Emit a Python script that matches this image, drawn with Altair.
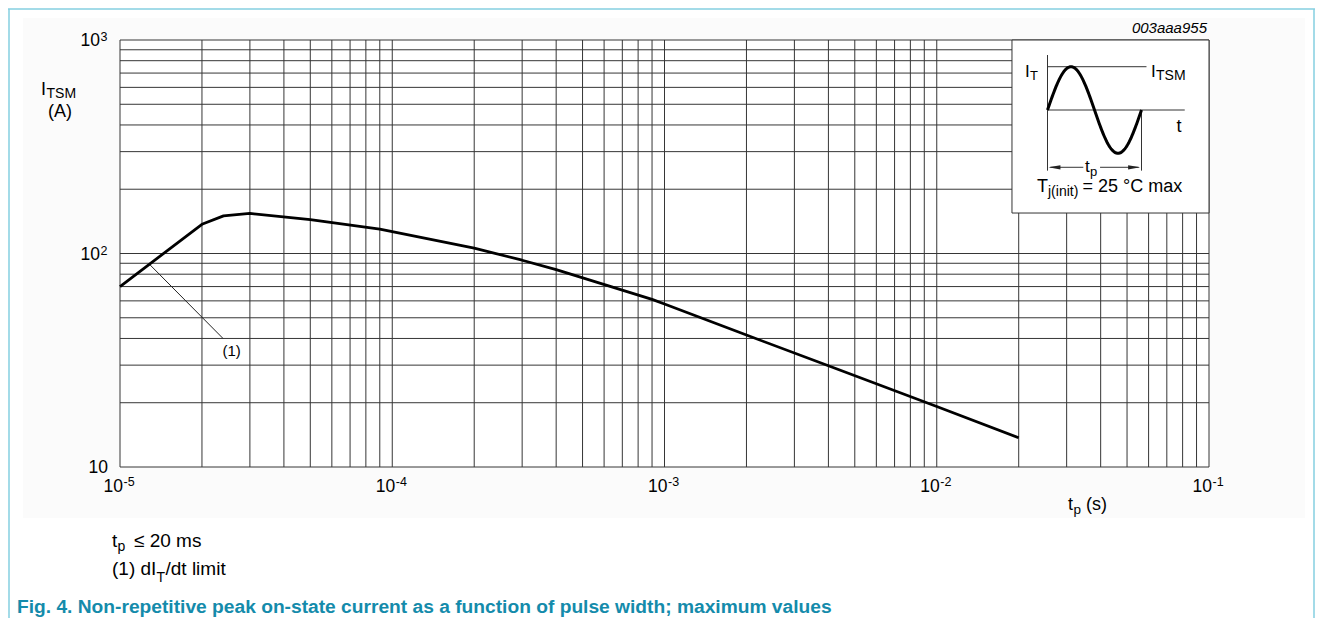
import altair as alt
import pandas as pd
import numpy as np

FONT = "Liberation Sans, Arial, Helvetica, sans-serif"
W, H = 1089, 427

# ---- curve data ----
tp_s = [1e-5, 2e-5, 2.4e-5, 3e-5, 5e-5, 9e-5, 2e-4, 3e-4, 4e-4, 9e-4, 1e-3, 2e-3, 4e-3, 1e-2, 2e-2]
itsm_a = [70, 137, 150, 154, 144, 130, 106, 93, 84, 61, 58, 41.5, 29.8, 19.2, 13.7]

# (1) dIT/dt limit leader line
limit_tp = [1.29e-5, 2.39e-5]
limit_i = [88.4, 40.0]
limit_label_tp = [2.57e-5]
limit_label_i = [35.1]

# grid
mantissas = [1, 2, 3, 4, 5, 6, 7, 8, 9]
x_decades = [1e-5, 1e-4, 1e-3, 1e-2]
y_decades = [10, 100]
grid_x = [m * d for d in x_decades for m in mantissas] + [1e-1]
grid_y = [m * d for d in y_decades for m in mantissas] + [1000]

# tick labels
x_tick_vals = [1e-5, 1e-4, 1e-3, 1e-2, 1e-1]
x_tick_exp = ["-5", "-4", "-3", "-2", "-1"]
y_tick_vals = [1000, 100]
y_tick_exp = ["3", "2"]
y_plain_vals = [10]

XS = alt.Scale(type="log", domain=[1e-5, 1e-1], nice=False)
YS = alt.Scale(type="log", domain=[10, 1000], nice=False)

GRID = "#363636"


def label(s, x, y, size=17, align="left", weight="normal", style="normal",
          color="#000000", baseline="alphabetic"):
    return alt.Chart(alt.Data(values=[{"s": s}])).mark_text(
        align=align, baseline=baseline, font=FONT, fontSize=size,
        fontWeight=weight, fontStyle=style, color=color
    ).encode(x=alt.value(x), y=alt.value(y), text="s:N")


# ---- backgrounds ----
panel = alt.Chart(alt.Data(values=[{}])).mark_rect(color="#fbfbfb").encode(
    x=alt.value(-97), x2=alt.value(1185), y=alt.value(-22), y2=alt.value(478))
plotbg = alt.Chart(alt.Data(values=[{}])).mark_rect(color="#ffffff").encode(
    x=alt.value(0), x2=alt.value(W), y=alt.value(0), y2=alt.value(H))
border_top = alt.Chart(alt.Data(values=[{}])).mark_rule(color="#84cfe0", strokeWidth=1.5).encode(
    x=alt.value(-112), x2=alt.value(1195), y=alt.value(-31))
border_left = alt.Chart(alt.Data(values=[{}])).mark_rule(color="#84cfe0", strokeWidth=1.5).encode(
    x=alt.value(-111), y=alt.value(-31), y2=alt.value(578))
border_right = alt.Chart(alt.Data(values=[{}])).mark_rule(color="#84cfe0", strokeWidth=1.5).encode(
    x=alt.value(1194), y=alt.value(-31), y2=alt.value(578))

# ---- grid ----
vgrid = alt.Chart(pd.DataFrame({"g": grid_x})).mark_rule(color=GRID, strokeWidth=1).encode(
    x=alt.X("g:Q", scale=XS, axis=None))
hgrid = alt.Chart(pd.DataFrame({"g": grid_y})).mark_rule(color=GRID, strokeWidth=1).encode(
    y=alt.Y("g:Q", scale=YS, axis=None))

# ---- curve ----
curve = alt.Chart(pd.DataFrame({"tp": tp_s, "i": itsm_a})).mark_line(
    color="#000000", strokeWidth=2.8, strokeJoin="round").encode(
    x=alt.X("tp:Q", scale=XS, axis=None), y=alt.Y("i:Q", scale=YS, axis=None))

leader = alt.Chart(pd.DataFrame({"tp": limit_tp, "i": limit_i})).mark_line(
    color="#222222", strokeWidth=1).encode(
    x=alt.X("tp:Q", scale=XS, axis=None), y=alt.Y("i:Q", scale=YS, axis=None))
leader_lbl = alt.Chart(pd.DataFrame({"tp": limit_label_tp, "i": limit_label_i, "s": ["(1)"]})).mark_text(
    font=FONT, fontSize=15, align="center", baseline="middle", color="#000000").encode(
    x=alt.X("tp:Q", scale=XS, axis=None), y=alt.Y("i:Q", scale=YS, axis=None), text="s:N")

# ---- tick labels ----
xt = pd.DataFrame({"v": x_tick_vals, "e": x_tick_exp, "b": ["10"] * len(x_tick_vals)})
x_base = alt.Chart(xt).mark_text(font=FONT, fontSize=17.5, align="right", baseline="alphabetic",
                                 dx=3, dy=25, color="#000000").encode(
    x=alt.X("v:Q", scale=XS, axis=None), y=alt.value(H), text="b:N")
x_sup = alt.Chart(xt).mark_text(font=FONT, fontSize=12.5, align="left", baseline="alphabetic",
                                dx=3.5, dy=19, color="#000000").encode(
    x=alt.X("v:Q", scale=XS, axis=None), y=alt.value(H), text="e:N")

yt = pd.DataFrame({"v": y_tick_vals, "e": y_tick_exp, "b": ["10"] * len(y_tick_vals)})
y_base = alt.Chart(yt).mark_text(font=FONT, fontSize=17.5, align="right", baseline="alphabetic",
                                 dx=-20, dy=6, color="#000000").encode(
    y=alt.Y("v:Q", scale=YS, axis=None), x=alt.value(0), text="b:N")
y_sup = alt.Chart(yt).mark_text(font=FONT, fontSize=12.5, align="left", baseline="alphabetic",
                                dx=-19.5, dy=1, color="#000000").encode(
    y=alt.Y("v:Q", scale=YS, axis=None), x=alt.value(0), text="e:N")
y_plain = alt.Chart(pd.DataFrame({"v": y_plain_vals, "b": ["10"]})).mark_text(
    font=FONT, fontSize=17.5, align="right", baseline="alphabetic", dx=-12, dy=6, color="#000000").encode(
    y=alt.Y("v:Q", scale=YS, axis=None), x=alt.value(0), text="b:N")

main = alt.layer(panel, plotbg, border_top, border_left, border_right, vgrid, hgrid,
                 curve, leader, leader_lbl, x_base, x_sup, y_base, y_sup, y_plain)

# ---- inset (schematic of one sine period, own linear coordinates) ----
US = alt.Scale(domain=[-9.867, 1.718], nice=False, zero=False)
VS = alt.Scale(domain=[-8.245, 1.617], nice=False, zero=False)

box = pd.DataFrame({"u": [-0.378], "u2": [1.718], "v": [1.617], "v2": [-2.379]})
inset_box = alt.Chart(box).mark_rect(fill="#ffffff", stroke="#333333", strokeWidth=1).encode(
    x=alt.X("u:Q", scale=US, axis=None), x2="u2:Q",
    y=alt.Y("v:Q", scale=VS, axis=None), y2="v2:Q")

seg_name = ["axis", "axis", "itsm", "itsm", "t", "t", "end", "end", "aL", "aL", "aR", "aR"]
seg_u = [0, 0, 0, 1.053, 0, 1.46, 1, 1, 0.03, 0.381, 0.559, 0.97]
seg_v = [1.27, -1.40, 1, 1, 0, 0, 0, -1.40, -1.323, -1.323, -1.323, -1.323]
seg_i = [0, 1, 0, 1, 0, 1, 0, 1, 0, 1, 0, 1]
inset_lines = alt.Chart(pd.DataFrame({"s": seg_name, "u": seg_u, "v": seg_v, "i": seg_i})).mark_line(
    color="#333333", strokeWidth=1).encode(
    x=alt.X("u:Q", scale=US, axis=None), y=alt.Y("v:Q", scale=VS, axis=None),
    detail="s:N", order="i:Q")

sine_u = np.linspace(0, 1, 121)
sine_v = np.sin(2 * np.pi * sine_u)
inset_sine = alt.Chart(pd.DataFrame({"u": sine_u, "v": sine_v})).mark_line(
    color="#000000", strokeWidth=3).encode(
    x=alt.X("u:Q", scale=US, axis=None), y=alt.Y("v:Q", scale=VS, axis=None))

arrow_left = alt.Chart(pd.DataFrame({"u": [0.01], "v": [-1.323]})).mark_point(
    shape="M 0 0 L 2 -0.36 L 2 0.36 Z", size=144, filled=True, color="#222222", opacity=1).encode(
    x=alt.X("u:Q", scale=US, axis=None), y=alt.Y("v:Q", scale=VS, axis=None))
arrow_right = alt.Chart(pd.DataFrame({"u": [0.985], "v": [-1.323]})).mark_point(
    shape="M 0 0 L -2 -0.36 L -2 0.36 Z", size=144, filled=True, color="#222222", opacity=1).encode(
    x=alt.X("u:Q", scale=US, axis=None), y=alt.Y("v:Q", scale=VS, axis=None))

inset = alt.layer(inset_box, inset_lines, inset_sine, arrow_left, arrow_right)

# ---- texts ----
texts = [
    # inset labels
    label("I", 905, 37, 17), label("T", 910, 40, 13),
    label("I", 1031, 37, 17), label("TSM", 1036, 40, 14),
    label("t", 1059, 92, 18, align="center"),
    label("t", 965, 132, 17), label("p", 970, 135.5, 13),
    label("T", 917, 152, 18), label("j(init)", 928, 155.5, 14), label("= 25 °C max", 962.5, 152, 18),
    # figure id
    label("003aaa955", 1087, -7, 15, align="right", style="italic"),
    # y-axis title
    label("I", -79, 55, 18), label("TSM", -73.5, 58, 14),
    label("(A)", -60, 76.5, 18, align="center"),
    # x-axis title
    label("t", 948, 470, 18), label("p", 953.5, 474, 13.5), label("(s)", 966, 470, 18),
    # notes
    label("t", -8, 507, 19), label("p", -2.5, 511, 14), label("≤ 20 ms", 14, 507, 19),
    label("(1) dI", -8, 535, 19), label("T", 36.5, 541.5, 14), label("/dt limit", 45.5, 535, 19),
    # caption
    label("Fig. 4. Non-repetitive peak on-state current as a function of pulse width; maximum values",
          -103, 573, 19.2, weight="bold", color="#148bab"),
]

chart = alt.layer(main, inset, *texts).resolve_scale(
    x="independent", y="independent"
).properties(
    width=W, height=H,
    padding={"left": 112, "top": 32, "right": 106, "bottom": 151},
    autosize=alt.AutoSizeParams(type="none"),
    background="#ffffff",
).configure_view(stroke=None)

chart.save("out.html", embed_options={"renderer": "svg", "actions": False})
